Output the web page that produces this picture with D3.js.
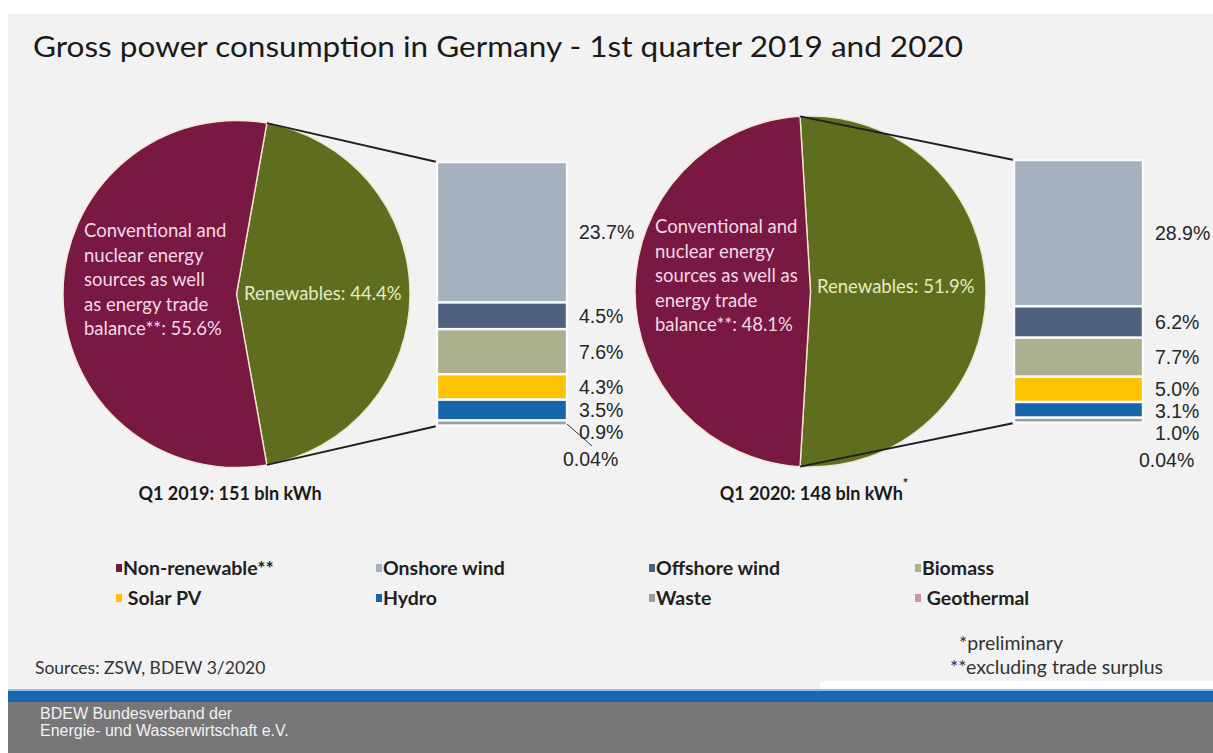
<!DOCTYPE html>
<html>
<head>
<meta charset="utf-8">
<script src="https://cdn.jsdelivr.net/npm/d3@7"></script>
<style>
  html, body { margin: 0; padding: 0; background: #ffffff; }
  svg { display: block; }
</style>
</head>
<body>
<svg id="chart" width="1213" height="753"></svg>
<script>
// Gross power consumption in Germany, Q1 2019 vs Q1 2020 (shares in %)
const periods = ["Q1 2019", "Q1 2020"];
const totalsBlnKWh = [151, 148];
const nonRenewableShare = [55.6, 48.1];
const renewableShare = [44.4, 51.9];

const sources = ["Onshore wind", "Offshore wind", "Biomass", "Solar PV", "Hydro", "Waste", "Geothermal"];
const share2019 = [23.7, 4.5, 7.6, 4.3, 3.5, 0.9, 0.04];
const share2020 = [28.9, 6.2, 7.7, 5.0, 3.1, 1.0, 0.04];

const legendLabels = ["Non-renewable**", "Onshore wind", "Offshore wind", "Biomass",
                      " Solar PV", "Hydro", "Waste", " Geothermal"];

const colors = {
  "Non-renewable": "#781843",
  "Renewables": "#5f6d1f",
  "Onshore wind": "#a6b1bf",
  "Offshore wind": "#4e6280",
  "Biomass": "#adb08e",
  "Solar PV": "#fdc300",
  "Hydro": "#1665ad",
  "Waste": "#9d9d9d",
  "Geothermal": "#cc93ad"
};
const legendColors = ["Non-renewable", "Onshore wind", "Offshore wind", "Biomass",
                      "Solar PV", "Hydro", "Waste", "Geothermal"].map(k => colors[k]);

const textLines2019 = ["Conventional and", "nuclear energy", "sources as well", "as energy trade", "balance**: "];
const textLines2020 = ["Conventional and", "nuclear energy", "sources as well as", "energy trade", "balance**: "];

const svg = d3.select("#chart");
const W = 1213, H = 753;
const fontCal = "Lato, 'Open Sans', sans-serif";
const fontArial = "'Liberation Sans', Arial, sans-serif";

// page background panels
svg.append("rect").attr("x", 0).attr("y", 0).attr("width", W).attr("height", H).attr("fill", "#ffffff");
svg.append("rect").attr("x", 8).attr("y", 14).attr("width", W - 8).attr("height", 676).attr("fill", "#f2f2f2");

// title
svg.append("text")
  .attr("x", 33).attr("y", 57)
  .attr("font-family", fontCal).attr("font-size", 29.5)
  .attr("fill", "#1a1a1a")
  .attr("textLength", 930).attr("lengthAdjust", "spacingAndGlyphs")
  .text("Gross power consumption in Germany - 1st quarter 2019 and 2020");

const layouts = [
  { cx: 236.5, cy: 294, r: 173.5, barX: 437, barW: 130, barTop: 162, barBottom: 426,
    textX: 84, textY: 237, renewX: 244, renewY: 300, capX: 230, leader: true, lines: textLines2019,
    shares: share2019 },
  { cx: 810.5, cy: 291.5, r: 175.5, barX: 1014, barW: 129, barTop: 160, barBottom: 423,
    textX: 655, textY: 233, renewX: 817, renewY: 293, capX: 814, leader: false, lines: textLines2020,
    shares: share2020 }
];

const fmtShare = v => (v < 0.1 ? v.toFixed(2) : v.toFixed(1)) + "%";

layouts.forEach((L, i) => {
  const g = svg.append("g");
  const renewFrac = renewableShare[i] / (renewableShare[i] + nonRenewableShare[i]);
  // renewables slice is centred on the right-hand side of the pie
  const start = Math.PI / 2 - renewFrac * Math.PI;
  const pie = d3.pie().sort(null).value(d => d.v)
    .startAngle(start).endAngle(start + 2 * Math.PI);
  const arcs = pie([
    { k: "Renewables", v: renewableShare[i] },
    { k: "Non-renewable", v: nonRenewableShare[i] }
  ]);
  const arc = d3.arc().innerRadius(0).outerRadius(L.r);

  const pg = g.append("g").attr("transform", `translate(${L.cx},${L.cy})`);
  pg.selectAll("path").data(arcs).join("path")
    .attr("d", arc)
    .attr("fill", d => colors[d.data.k])
    .attr("stroke", "#f4e6cf").attr("stroke-width", 1.4)
    .attr("stroke-linejoin", "round");

  // stacked bar of renewable sources
  const total = d3.sum(L.shares);
  const y = d3.scaleLinear().domain([0, total]).range([L.barTop, L.barBottom]);
  const cum = d3.cumsum(L.shares);
  const segs = L.shares.map((v, j) => ({ k: sources[j], v, y0: cum[j] - v, y1: cum[j] }));

  // connector lines from the renewables slice to the bar
  const ra = arcs[0];
  const edge = a => [L.cx + L.r * Math.sin(a), L.cy - L.r * Math.cos(a)];
  const pTop = edge(ra.startAngle), pBot = edge(ra.endAngle);
  g.append("line").attr("x1", pTop[0]).attr("y1", pTop[1]).attr("x2", L.barX).attr("y2", y(0))
    .attr("stroke", "#1f1f1f").attr("stroke-width", 1.8);
  g.append("line").attr("x1", pBot[0]).attr("y1", pBot[1]).attr("x2", L.barX).attr("y2", y(total))
    .attr("stroke", "#1f1f1f").attr("stroke-width", 1.8);

  g.selectAll("rect.seg").data(segs).join("rect")
    .attr("class", "seg")
    .attr("x", L.barX).attr("width", L.barW)
    .attr("y", d => y(d.y0)).attr("height", d => Math.max(0.5, y(d.y1) - y(d.y0)))
    .attr("fill", d => colors[d.k])
    .attr("stroke", "#f9fafc").attr("stroke-width", 2.4);

  // value labels, pushed apart where segments are thin
  let prev = -Infinity;
  segs.forEach((d, j) => {
    const isLast = j === segs.length - 1;
    let ly = Math.max((y(d.y0) + y(d.y1)) / 2, prev + 22);
    if (isLast) ly += 5;
    d.ly = ly; prev = ly;
    d.lx = L.barX + L.barW + (isLast ? -4 : 12);
  });
  if (L.leader) {
    const last = segs[segs.length - 1];
    g.append("line")
      .attr("x1", L.barX + L.barW).attr("y1", y(total) - 2)
      .attr("x2", L.barX + L.barW + 25).attr("y2", last.ly - 13)
      .attr("stroke", "#333").attr("stroke-width", 1);
  }
  g.selectAll("text.val").data(segs).join("text")
    .attr("class", "val")
    .attr("x", d => d.lx).attr("y", d => d.ly).attr("dy", "0.36em")
    .attr("font-family", fontArial).attr("font-size", 19.5)
    .attr("fill", "#262626")
    .text(d => fmtShare(d.v));

  // labels inside the pie
  const lines = L.lines.slice();
  lines[lines.length - 1] += nonRenewableShare[i].toFixed(1) + "%";
  g.append("text")
    .attr("font-family", fontCal).attr("font-size", 18.5).attr("fill", "#f3d9e4")
    .selectAll("tspan").data(lines).join("tspan")
    .attr("x", L.textX).attr("y", (d, j) => L.textY + j * 24.5)
    .text(d => d);
  g.append("text")
    .attr("x", L.renewX).attr("y", L.renewY)
    .attr("font-family", fontCal).attr("font-size", 18.5).attr("fill", "#e4ebbf")
    .text("Renewables: " + renewableShare[i].toFixed(1) + "%");

  // caption under the pie
  const cap = g.append("text")
    .attr("x", L.capX).attr("y", 500).attr("text-anchor", "middle")
    .attr("font-family", fontCal).attr("font-size", 18).attr("font-weight", "bold")
    .attr("fill", "#1a1a1a")
    .text(`${periods[i]}: ${totalsBlnKWh[i]} bln kWh`);
  if (i === 1) cap.append("tspan").attr("dy", -12).attr("font-size", 13).text("*");
});

// legend
const legX = [116, 376, 649, 915], legY = [568, 598];
const lg = svg.append("g");
legendLabels.forEach((lab, k) => {
  const x = legX[k % 4], yy = legY[Math.floor(k / 4)];
  lg.append("rect").attr("x", x).attr("y", yy - 4).attr("width", 6).attr("height", 8)
    .attr("fill", legendColors[k]);
  lg.append("text").attr("x", x + 7).attr("y", yy).attr("dy", "0.35em")
    .attr("font-family", fontCal).attr("font-size", 19.5).attr("font-weight", "bold")
    .attr("fill", "#1f1f1f")
    .style("white-space", "pre")
    .text(lab);
});

// notes and sources
const note = (x, y, t, fs) => svg.append("text").attr("x", x).attr("y", y)
  .attr("font-family", fontCal).attr("font-size", fs).attr("fill", "#333")
  .text(t);
note(959, 650, "*preliminary", 19.5);
note(950, 674, "**excluding trade surplus", 19.5);
note(35, 674, "Sources: ZSW, BDEW 3/2020", 17.5);

// footer bands
svg.append("rect").attr("x", 820).attr("y", 681).attr("width", W - 820).attr("height", 9).attr("fill", "#ffffff");
svg.append("rect").attr("x", 8).attr("y", 689).attr("width", W - 8).attr("height", 2).attr("fill", "#8fc0e6");
svg.append("rect").attr("x", 8).attr("y", 691).attr("width", W - 8).attr("height", 11).attr("fill", "#1a67b1");
svg.append("rect").attr("x", 8).attr("y", 702).attr("width", W - 8).attr("height", H - 702).attr("fill", "#77777a");
svg.append("text")
  .attr("font-family", fontArial).attr("font-size", 16).attr("fill", "#f2f2f2")
  .selectAll("tspan").data(["BDEW Bundesverband der", "Energie- und Wasserwirtschaft e.V."]).join("tspan")
  .attr("x", 40).attr("y", (d, j) => 719 + j * 17)
  .attr("letter-spacing", 0)
  .text(d => d);
</script>
</body>
</html>
